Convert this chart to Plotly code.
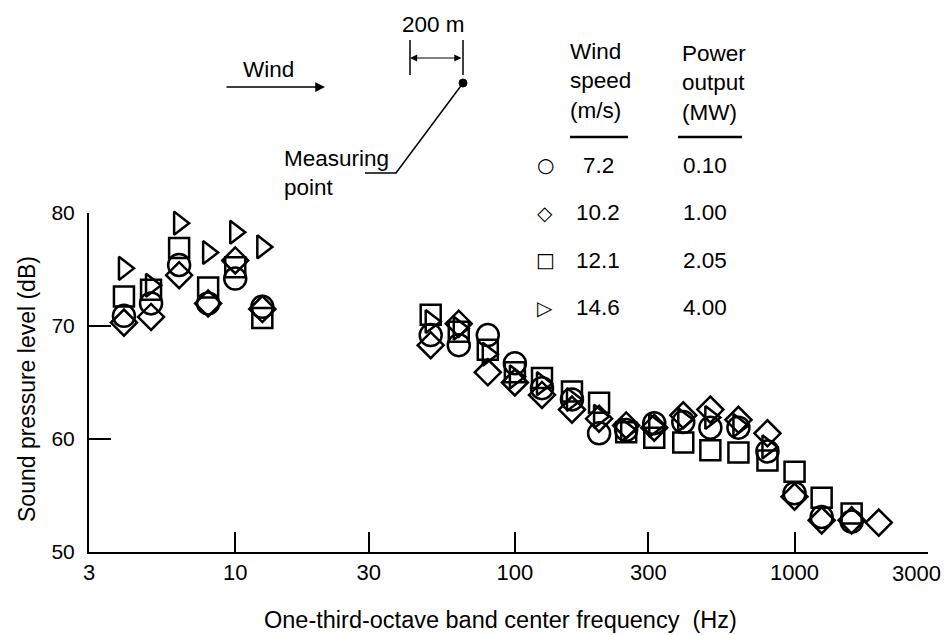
import plotly.graph_objects as go

# one-third-octave band centre frequencies (Hz)
freq = [4, 5, 6.3, 8, 10, 12.5,
        50, 63, 80, 100, 125, 160, 200, 250, 315, 400, 500, 630, 800,
        1000, 1250, 1600, 2000]

# sound pressure level (dB) per wind speed
spl_72 = [70.9, 72.0, 75.4, 72.0, 74.2, 71.7,
          69.2, 68.3, 69.2, 66.7, 64.5, 63.5, 60.5, 60.8, 61.4, 61.5, 61.0, 61.0, 58.9,
          55.2, 53.1, 52.7, None]
spl_102 = [70.3, 70.8, 74.5, 72.0, 75.8, 71.5,
           68.3, 70.2, 65.9, 65.0, 63.9, 62.6, 61.8, 61.2, 61.0, 62.1, 62.6, 61.7, 60.5,
           54.9, 52.8, 52.8, 52.6]
spl_121 = [72.6, 73.2, 76.9, 73.4, 75.2, 70.7,
           71.0, 69.5, 67.9, 65.9, 65.4, 64.2, 63.2, 60.6, 60.1, 59.7, 59.0, 58.8, 58.1,
           57.1, 54.8, 53.4, None]
spl_146 = [75.1, 73.6, 79.1, 76.5, 78.3, 77.0,
           70.4, 69.8, 67.5, 65.5, 64.9, 63.5, 62.0, 60.8, 61.2, 61.7, 61.9, 61.2, 59.3,
           None, None, None, None]

wind_speed = ["7.2", "10.2", "12.1", "14.6"]
power_out = ["0.10", "1.00", "2.05", "4.00"]
symbols = ["circle-open", "diamond-open", "square-open", "triangle-right-open"]
sizes = [22, 20, 20, 20]
legend_glyph = ["○", "◇", "□", "▷"]

x_ticks = [3, 10, 30, 100, 300, 1000, 3000]
x_ticktext = ["3", "10", "30", "100", "300", "1000", "3000"]
y_ticks = [50, 60, 70, 80]

FONT = "Liberation Sans, Arial, Helvetica, sans-serif"

# plot area in pixels: left 89, right 928, top 213, bottom 552
L, R, T, B = 89, 928, 213, 552


def px(x):
    return (x - L) / (R - L)


def py(y):
    return (B - y) / (B - T)


fig = go.Figure()
for ys, sym, sz in zip([spl_72, spl_102, spl_121, spl_146], symbols, sizes):
    fig.add_trace(go.Scatter(
        x=freq, y=ys, mode="markers",
        marker=dict(symbol=sym, size=sz, color="black", line=dict(width=2.5, color="black")),
        cliponaxis=False, showlegend=False, hoverinfo="skip",
    ))

shapes = [
    # 200 m bars
    dict(type="line", x0=px(410), x1=px(410), y0=py(40), y1=py(75), line=dict(color="black", width=1.5)),
    dict(type="line", x0=px(463), x1=px(463), y0=py(40), y1=py(75), line=dict(color="black", width=1.5)),
    # measuring point
    dict(type="circle", x0=px(459), x1=px(467), y0=py(79), y1=py(87),
         fillcolor="black", line=dict(color="black", width=1)),
    dict(type="path", path=f"M {px(463)} {py(83)} L {px(396)} {py(173)} L {px(365)} {py(173)}",
         line=dict(color="black", width=1.5)),
    # table header underlines
    dict(type="line", x0=px(570), x1=px(628), y0=py(137), y1=py(137), line=dict(color="black", width=2.5)),
    dict(type="line", x0=px(678), x1=px(742), y0=py(137), y1=py(137), line=dict(color="black", width=2.5)),
]
for s in shapes:
    s.update(xref="paper", yref="paper")

ann = [
    dict(x=px(325), y=py(87), ax=-100, ay=0, text="", showarrow=True,
         arrowhead=2, arrowsize=1.3, arrowwidth=1.5, arrowcolor="black"),
    dict(x=px(268), y=py(70), text="Wind", showarrow=False),
    dict(x=px(410), y=py(58), ax=53, ay=0, text="", showarrow=True, arrowside="end+start",
         arrowhead=2, arrowsize=1.2, arrowwidth=1.2, arrowcolor="black"),
    dict(x=px(433), y=py(25), text="200 m", showarrow=False),
    dict(x=px(282), y=py(144), text="Measuring<br>point", showarrow=False,
         xanchor="left", yanchor="top", align="left"),
    dict(x=px(568), y=py(37), text="Wind<br>speed<br>(m/s)", showarrow=False,
         xanchor="left", yanchor="top", align="left"),
    dict(x=px(680), y=py(39), text="Power<br>output<br>(MW)", showarrow=False,
         xanchor="left", yanchor="top", align="left"),
    dict(x=px(500), y=py(620), text="One-third-octave band center frequency  (Hz)", showarrow=False,
         font=dict(size=23.5)),
    dict(x=px(27), y=py(389), text="Sound pressure level (dB)", showarrow=False, textangle=-90,
         font=dict(size=23)),
    # last x tick label, pulled in from the right edge as in the original
    dict(x=px(916), y=py(573), text=x_ticktext[-1], showarrow=False, font=dict(size=22)),
]
for i in range(4):
    yy = py(165 + 47.5 * i)
    ann.append(dict(x=px(545), y=yy, text=legend_glyph[i], showarrow=False,
                    font=dict(family="DejaVu Sans", size=20)))
    ann.append(dict(x=px(598), y=yy, text=wind_speed[i], showarrow=False))
    ann.append(dict(x=px(705), y=yy, text=power_out[i], showarrow=False))
for a in ann:
    a.update(xref="paper", yref="paper")
    if a.get("showarrow"):
        a.update(axref="pixel", ayref="pixel")
    a.setdefault("xanchor", "center")
    a.setdefault("yanchor", "middle")

fig.update_layout(
    width=944, height=635,
    margin=dict(l=L, r=944 - R, t=T, b=635 - B),
    paper_bgcolor="white", plot_bgcolor="white",
    font=dict(family=FONT, size=22.5, color="black"),
    shapes=shapes, annotations=ann,
    xaxis=dict(
        type="log", range=[0.4771, 3.4772],
        tickvals=x_ticks, ticktext=x_ticktext[:-1] + [""],
        ticks="inside", ticklen=20, tickwidth=1.5, tickcolor="black",
        tickfont=dict(size=22),
        showline=True, linecolor="black", linewidth=2,
        showgrid=False, zeroline=False, automargin=False,
    ),
    yaxis=dict(
        range=[50, 80], tickvals=y_ticks,
        ticks="inside", ticklen=22, tickwidth=2, tickcolor="black",
        tickfont=dict(size=21),
        showline=True, linecolor="black", linewidth=2,
        showgrid=False, zeroline=False, automargin=False,
        ticklabelstandoff=8,
    ),
)

fig.write_html("out.html", config={"displayModeBar": False},
               post_script="document.body.style.margin='0';")
